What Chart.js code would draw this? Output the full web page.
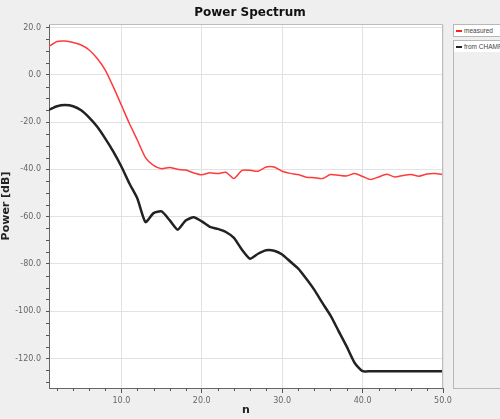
<!DOCTYPE html>
<html>
<head>
<meta charset="utf-8">
<script src="https://cdn.jsdelivr.net/npm/chart.js@4"></script>
<style>
  body { margin: 0; background: #efefef; }
  #wrap { position: relative; width: 500px; height: 419px; overflow: hidden; font-family: "Liberation Sans", sans-serif; }
  canvas { position: absolute; left: 0; top: 0; }
  .leg { position: absolute; background: #fff; border: 1px solid #b8b8b8; font-size: 6.5px; color: #444; white-space: nowrap; }
  .leg span.sw { display: inline-block; width: 6px; vertical-align: middle; margin: 0 2px 0 2px; }
</style>
</head>
<body>
<div id="wrap">
  <canvas id="spectrumChart" width="500" height="419"></canvas>
  <div class="leg" style="left:453px; top:24px; width:60px; height:11px; line-height:11px;">
    <span class="sw" style="border-top:2px solid #ff2020;"></span>measured
  </div>
  <div class="leg" style="left:453px; top:40px; width:60px; height:347px; background:#efefef;">
    <div style="height:11px; line-height:11px; background:#fff;"><span class="sw" style="border-top:2.5px solid #222;"></span>from CHAMP</div>
  </div>
</div>
<script>
// degré n
const degrees = [1, 2, 3, 4, 5, 6, 7, 8, 9, 10,
  11, 12, 13, 14, 15, 16, 17, 18, 19, 20,
  21, 22, 23, 24, 25, 26, 27, 28, 29, 30,
  31, 32, 33, 34, 35, 36, 37, 38, 39, 40,
  41, 42, 43, 44, 45, 46, 47, 48, 49, 50];

// spectre mesuré (dB)
const measured = [12.0, 14.1, 14.3, 13.7, 12.6, 10.5, 6.9, 2.0, -5.1, -12.8,
  -20.6, -27.7, -35.0, -38.3, -39.7, -39.2, -40.0, -40.3, -41.5, -42.3,
  -41.4, -41.8, -41.2, -43.9, -40.4, -40.4, -40.8, -39.0, -39.0, -40.8,
  -41.7, -42.2, -43.3, -43.5, -43.9, -42.2, -42.5, -42.8, -41.8, -43.0,
  -44.3, -43.2, -42.1, -43.2, -42.6, -42.2, -42.9, -42.0, -41.8, -42.2];

// spectre du modèle CHAMP (dB)
const fromChamp = [-14.8, -13.3, -12.8, -13.3, -15.0, -18.1, -22.0, -27.0, -32.5, -38.8,
  -46.0, -52.4, -62.3, -58.5, -57.8, -61.5, -65.5, -61.6, -60.3, -62.0,
  -64.3, -65.2, -66.5, -69.0, -74.0, -77.8, -75.7, -74.2, -74.4, -76.0,
  -79.0, -82.0, -86.3, -91.0, -96.5, -101.8, -108.3, -114.8, -121.8, -125.4,
  -125.4, -125.4, -125.4, -125.4, -125.4, -125.4, -125.4, -125.4, -125.4, -125.4];

// graduations
const xTicks = [10, 20, 30, 40, 50];
const xMinorTicks = [2, 4, 6, 8, 12, 14, 16, 18, 22, 24, 26, 28, 32, 34, 36, 38, 42, 44, 46, 48];
const yTicks = [20, 0, -20, -40, -60, -80, -100, -120];
const yMinorTicks = [15, 10, 5, -5, -10, -15, -25, -30, -35, -45, -50, -55, -65, -70, -75,
  -85, -90, -95, -105, -110, -115, -125, -130];

const toPoints = (vals) => degrees.map((n, i) => ({ x: n, y: vals[i] }));

// fond blanc de la zone de tracé + petites graduations + cadre
const plotDecor = {
  id: 'plotDecor',
  beforeDraw(chart) {
    const { ctx, chartArea: a } = chart;
    ctx.save();
    ctx.fillStyle = '#ffffff';
    ctx.fillRect(a.left, a.top, a.right - a.left, a.bottom - a.top);
    ctx.restore();
  },
  afterDraw(chart) {
    const { ctx, chartArea: a, scales } = chart;
    ctx.save();
    ctx.strokeStyle = '#555';
    ctx.lineWidth = 1;
    ctx.beginPath();
    xMinorTicks.forEach(v => {
      const px = Math.round(scales.x.getPixelForValue(v)) + 0.5;
      ctx.moveTo(px, a.bottom);
      ctx.lineTo(px, a.bottom + 3);
    });
    yMinorTicks.forEach(v => {
      const py = Math.round(scales.y.getPixelForValue(v)) + 0.5;
      ctx.moveTo(a.left, py);
      ctx.lineTo(a.left - 3, py);
    });
    ctx.stroke();
    ctx.strokeStyle = '#bdbdbd';
    ctx.beginPath();
    ctx.moveTo(a.left, a.top + 0.5);
    ctx.lineTo(a.right - 0.5, a.top + 0.5);
    ctx.lineTo(a.right - 0.5, a.bottom);
    ctx.stroke();
    ctx.restore();
  }
};

const canvas = document.getElementById('spectrumChart');

new Chart(canvas, {
  type: 'line',
  data: {
    datasets: [
      {
        label: 'measured',
        data: toPoints(measured),
        borderColor: '#ff3a3a',
        borderWidth: 1.5,
        pointRadius: 0,
        tension: 0.2
      },
      {
        label: 'from CHAMP',
        data: toPoints(fromChamp),
        borderColor: '#222222',
        borderWidth: 2.5,
        pointRadius: 0,
        tension: 0.2
      }
    ]
  },
  options: {
    responsive: false,
    animation: false,
    layout: { padding: 0 },
    plugins: {
      legend: { display: false },
      tooltip: { enabled: false },
      title: {
        display: true,
        text: 'Power Spectrum',
        color: '#111',
        font: { family: 'DejaVu Sans', size: 12, weight: 'bold' },
        padding: { top: 6, bottom: 3.6 }
      }
    },
    scales: {
      x: {
        type: 'linear',
        min: 1,
        max: 50,
        afterBuildTicks: (s) => { s.ticks = xTicks.map(v => ({ value: v })); },
        afterFit: (s) => { s.height = 31; },
        ticks: {
          callback: (v) => v.toFixed(1),
          color: '#666',
          font: { family: 'DejaVu Sans', size: 8 },
          padding: 3,
          maxRotation: 0
        },
        grid: { color: '#e2e2e2', tickColor: '#555', tickLength: 5 },
        border: { color: '#666' },
        title: {
          display: true,
          text: 'n',
          color: '#222',
          font: { family: 'DejaVu Sans', size: 11, weight: 'bold' },
          padding: { top: 0, bottom: 2 }
        }
      },
      y: {
        min: -132.5,
        max: 21.5,
        afterBuildTicks: (s) => { s.ticks = yTicks.map(v => ({ value: v })); },
        afterFit: (s) => { s.width = 49; },
        ticks: {
          callback: (v) => v.toFixed(1),
          color: '#666',
          font: { family: 'DejaVu Sans', size: 8 },
          padding: 5
        },
        grid: { color: '#e2e2e2', tickColor: '#555', tickLength: 3 },
        border: { color: '#666' },
        title: {
          display: true,
          text: 'Power [dB]',
          color: '#222',
          font: { family: 'DejaVu Sans', size: 11, weight: 'bold' },
          padding: { top: 0, bottom: 4 }
        }
      },
      // axe vide à droite pour réserver la place de la légende
      y2: {
        position: 'right',
        min: 0,
        max: 1,
        afterFit: (s) => { s.width = 57; },
        ticks: { display: false },
        grid: { display: false },
        border: { display: false }
      }
    }
  },
  plugins: [plotDecor]
});
</script>
</body>
</html>
